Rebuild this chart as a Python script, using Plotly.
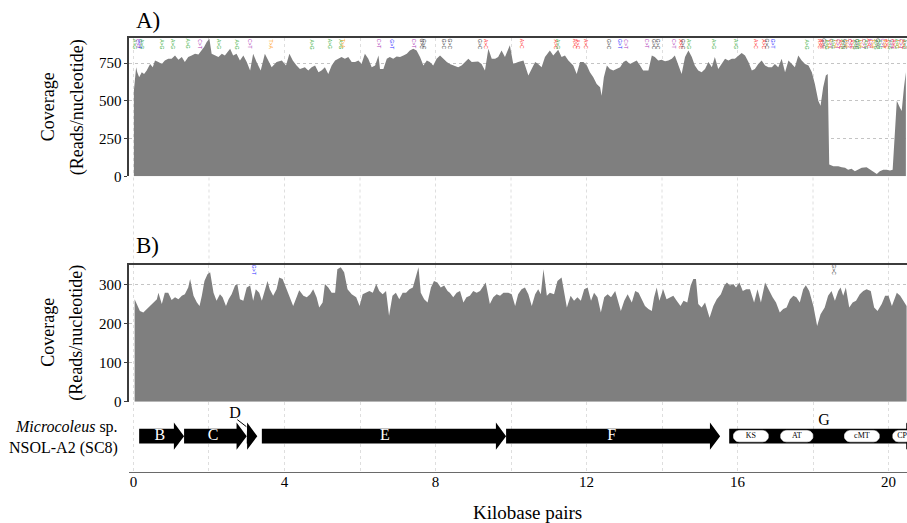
import numpy as np
import plotly.graph_objects as go

# ---------------- data ----------------
posA = [0.01,0.07,0.10,0.15,0.22,0.28,0.35,0.44,0.51,0.57,
        0.66,0.75,0.83,0.92,1.01,1.10,1.19,1.28,1.36,1.45,
        1.54,1.63,1.72,1.81,1.87,1.94,2.01,2.07,2.16,2.25,
        2.34,2.42,2.56,2.64,2.73,2.82,2.91,3.00,3.09,3.17,
        3.26,3.37,3.48,3.57,3.66,3.79,3.93,4.04,4.13,4.22,
        4.32,4.41,4.54,4.63,4.72,4.81,4.90,4.98,5.07,5.16,
        5.25,5.34,5.43,5.51,5.60,5.69,5.78,5.87,5.96,6.04,
        6.13,6.22,6.31,6.40,6.49,6.53,6.62,6.71,6.79,6.88,
        6.97,7.06,7.15,7.24,7.32,7.41,7.50,7.59,7.68,7.77,
        7.85,7.94,8.03,8.12,8.21,8.30,8.38,8.47,
        8.60,8.69,8.78,8.87,8.96,9.05,9.13,9.22,9.31,9.40,
        9.49,9.58,9.66,9.75,9.84,9.97,10.06,10.19,10.33,10.46,
        10.55,10.64,10.72,10.81,10.90,11.03,11.12,11.25,11.34,11.43,
        11.52,11.65,11.74,11.83,11.92,12.01,12.09,12.18,12.27,12.36,
        12.40,12.46,12.54,12.62,12.71,12.80,12.89,12.98,13.05,13.15,
        13.24,13.33,13.42,13.50,13.64,13.73,13.81,13.90,13.99,14.08,
        14.17,14.26,14.34,14.43,14.52,14.61,14.70,14.79,14.87,14.96,
        15.05,15.14,15.23,15.32,15.40,15.49,15.58,15.67,15.76,15.85,
        15.93,16.02,16.11,16.20,16.29,16.38,16.46,16.55,16.64,16.73,
        16.82,16.91,16.99,17.08,17.17,17.26,17.35,17.44,17.52,17.61,
        17.70,17.79,17.88,17.97,18.05,18.14,18.20,18.27,18.34,18.39,
        18.43,18.54,18.67,18.76,18.85,18.93,19.02,19.11,19.20,19.29,
        19.42,19.51,19.60,19.69,19.77,19.86,19.95,20.04,20.11,20.22,
        20.30,20.35,20.41,20.46]
covA = [567,722,689,656,689,678,700,744,722,767,
        756,744,767,778,778,800,771,789,756,789,
        800,811,807,833,856,889,911,811,800,789,
        811,800,844,800,811,767,800,756,700,811,
        756,700,811,767,722,756,767,733,811,767,
        733,711,722,700,722,733,689,700,722,678,
        733,767,778,789,778,789,756,756,767,744,
        811,778,722,733,800,711,711,778,789,778,
        793,789,800,811,833,844,833,789,733,767,
        756,733,778,800,778,756,744,733,
        722,733,756,778,756,756,760,744,700,844,
        778,778,789,833,789,867,744,756,767,667,
        711,756,744,722,789,833,800,838,789,800,
        767,733,678,756,756,733,689,656,611,589,
        533,656,733,711,700,711,722,756,767,744,
        756,767,733,700,700,800,789,767,771,762,
        767,778,800,744,678,789,833,789,733,700,
        689,711,756,722,789,711,744,778,767,778,
        778,800,816,800,756,700,711,744,767,733,
        722,722,744,722,778,689,767,744,722,800,
        767,744,733,689,611,500,467,589,667,678,
        78,67,67,60,56,44,51,33,44,56,
        60,44,29,16,33,44,44,38,44,500,
        456,433,589,689]

posB = [0.03,0.10,0.17,0.26,0.35,0.44,0.53,0.62,0.66,0.75,
        0.83,0.92,1.01,1.10,1.19,1.28,1.36,1.45,1.50,1.59,
        1.68,1.75,1.81,1.88,1.96,2.03,2.12,2.20,2.29,2.36,
        2.45,2.52,2.60,2.69,2.75,2.82,2.91,3.00,3.09,3.17,
        3.24,3.33,3.40,3.48,3.55,3.61,3.70,3.79,3.86,3.95,
        4.04,4.13,4.23,4.32,4.39,4.50,4.59,4.68,4.76,4.85,
        4.92,5.01,5.07,5.16,5.25,5.34,5.40,5.49,5.58,5.67,
        5.78,5.90,5.99,6.07,6.16,6.25,6.34,6.43,6.51,6.60,
        6.69,6.77,6.86,6.95,7.04,7.13,7.22,7.31,7.40,7.48,
        7.55,7.61,7.70,7.79,7.88,7.96,8.05,8.14,8.23,8.32,
        8.38,8.47,8.56,8.65,8.74,8.82,8.91,9.00,9.09,9.18,
        9.27,9.33,9.44,9.53,9.62,9.71,9.80,9.93,10.02,10.11,
        10.19,10.28,10.37,10.46,10.55,10.64,10.72,10.79,10.86,10.95,
        11.03,11.14,11.23,11.34,11.48,11.58,11.67,11.76,11.85,11.94,
        12.03,12.12,12.20,12.29,12.38,12.47,12.56,12.65,12.76,12.85,
        12.91,13.00,13.09,13.20,13.29,13.38,13.47,13.55,13.64,13.73,
        13.79,13.86,13.93,14.03,14.12,14.21,14.30,14.39,14.49,14.57,
        14.67,14.76,14.83,14.90,14.96,15.05,15.14,15.26,15.36,15.45,
        15.56,15.65,15.72,15.80,15.89,15.96,16.05,16.14,16.23,16.33,
        16.44,16.53,16.62,16.73,16.84,16.93,17.02,17.12,17.21,17.30,
        17.39,17.48,17.56,17.65,17.74,17.81,17.90,18.01,18.11,18.20,
        18.31,18.40,18.49,18.58,18.67,18.73,18.80,18.87,18.96,19.05,
        19.14,19.24,19.33,19.42,19.53,19.62,19.71,19.82,19.91,20.00,
        20.09,20.22,20.31,20.41,20.48]
covB = [262,245,232,228,237,245,254,262,279,250,
        279,279,260,267,262,271,275,292,314,271,
        254,245,271,309,326,331,279,258,275,267,
        245,262,275,297,301,262,258,292,297,258,
        288,279,258,288,309,288,271,288,318,314,
        292,271,245,267,285,271,267,275,288,267,
        241,254,301,292,279,279,339,344,331,288,
        275,267,245,275,279,283,279,301,283,275,
        283,220,271,279,262,279,279,288,292,322,
        344,279,262,254,292,309,305,292,297,283,
        279,267,279,283,254,267,271,283,279,283,
        297,305,250,267,275,271,279,279,275,245,
        275,288,292,275,245,275,288,275,339,271,
        279,275,309,318,241,271,258,267,258,288,
        292,258,279,267,228,267,275,267,283,254,
        232,258,275,254,283,279,262,245,237,232,
        267,292,258,288,262,267,271,258,245,258,
        254,297,314,314,250,241,254,215,245,262,
        275,297,305,297,301,292,305,283,288,288,
        254,288,254,305,283,267,254,228,237,241,
        262,271,267,254,288,298,283,245,194,224,
        241,271,283,258,283,292,271,292,241,254,
        258,275,283,288,283,241,232,250,271,271,
        245,279,271,254,245]

# variant labels along the top of each panel (position kb, colour class)
snpA_pos = [0.04,0.12,0.17,0.23,0.75,1.05,1.43,1.76,2.27,2.73,3.09,3.63,4.72,5.19,5.49,5.56,
            6.51,6.84,7.44,7.63,7.70,8.21,8.37,9.18,9.34,10.30,11.18,11.25,11.68,11.77,11.99,
            12.60,12.89,13.04,13.61,13.79,13.90,14.32,14.50,14.56,14.72,15.38,15.96,16.49,
            16.70,16.77,16.95,17.83,
            18.19,18.24,18.29,18.36,18.42,18.48,18.54,18.61,18.66,18.73,18.79,18.85,18.91,
            18.98,19.03,19.10,19.17,19.22,19.28,19.35,19.40,19.47,19.54,19.59,19.66,19.72,
            19.77,19.84,19.91,19.96,20.03,20.09,20.15,20.21,20.28,20.33,20.40,20.44]
snpA_kind = ["g","p","b","g","g","g","g","p","g","g","p","o","g","g","g","o",
             "p","b","p","k","k","k","k","k","r","r","r","g","r","r","r",
             "k","b","p","p","k","k","p","r","k","g","g","g","r",
             "r","k","b","g",
             "r","r","k","g","o","p","g","o","p","r","g","k","o",
             "p","r","g","k","g","o","p","g","r","p","o","g","k",
             "g","p","o","r","g","p","r","g","o","p","r","g"]
snpB_pos = [3.21, 18.56]
snpB_kind = ["b", "k"]
kind_color = {"g": "#3cb043", "p": "#b03cb8", "b": "#2f2fff", "o": "#ffa31a",
              "k": "#3a3a3a", "r": "#ff2a2a"}
kind_text = {"g": "A>G", "p": "C>T", "b": "G>T", "o": "T>A", "k": "G>C", "r": "A>C"}

# gene cluster
gene_names = ["B", "C", "D", "E", "F", "G"]
gene_start = [0.15, 1.34, 3.00, 3.40, 9.87, 15.78]
gene_end = [1.34, 3.00, 3.28, 9.87, 15.54, 20.74]
gene_label_x = [0.70, 2.11, 2.69, 6.66, 12.67, 18.29]
domain_names = ["KS", "AT", "cMT", "CP"]
domain_start = [15.89, 17.14, 18.83, 20.11]
domain_end = [16.82, 18.00, 19.76, 20.61]

x_ticks = [0, 4, 8, 12, 16, 20]

# ---------------- layout helpers ----------------
W, H = 907, 523          # reference frame
FIG_H = 532              # page is photographed at this height then fitted to 523
def py(p):  # reference pixel row -> paper y
    return (H - p) / H
def px(p):
    return p / W

FONT = "Liberation Serif"
XR = [-0.119, 20.49]
GRID_V = "#dedede"
GRID_H = "#c4c4c4"
AX = "#3c3c3c"
FILL = "#7f7f7f"

fig = go.Figure()

fig.add_trace(go.Scatter(x=posA, y=covA, mode="lines", fill="tozeroy",
                         fillcolor=FILL, line=dict(width=0, color=FILL),
                         xaxis="x", yaxis="y", hoverinfo="skip", showlegend=False))
fig.add_trace(go.Scatter(x=posB, y=covB, mode="lines", fill="tozeroy",
                         fillcolor=FILL, line=dict(width=0, color=FILL),
                         xaxis="x2", yaxis="y2", hoverinfo="skip", showlegend=False))

# gene arrows
yc, bh, hh, head = 5.1, 1.04, 1.95, 0.27
for s, e in zip(gene_start, gene_end):
    h = min(head, e - s)
    xs = [s, e - h, e - h, e, e - h, e - h, s, s]
    ys = [yc - bh, yc - bh, yc - hh, yc, yc + hh, yc + bh, yc + bh, yc - bh]
    fig.add_trace(go.Scatter(x=xs, y=ys, mode="lines", fill="toself", fillcolor="black",
                             line=dict(width=0, color="black"), xaxis="x3", yaxis="y3",
                             hoverinfo="skip", showlegend=False))

# domain pills
ry, rx = 0.81, 0.151
t = np.linspace(-np.pi / 2, np.pi / 2, 20)
for s, e in zip(domain_start, domain_end):
    right_x = (e - rx) + rx * np.cos(t)
    right_y = yc + ry * np.sin(t)
    left_x = (s + rx) - rx * np.cos(t[::-1])
    left_y = yc + ry * np.sin(t[::-1])
    xs = np.concatenate([right_x, left_x, right_x[:1]])
    ys = np.concatenate([right_y, left_y, right_y[:1]])
    fig.add_trace(go.Scatter(x=xs, y=ys, mode="lines", fill="toself", fillcolor="white",
                             line=dict(width=0.6, color="white"), xaxis="x3", yaxis="y3",
                             hoverinfo="skip", showlegend=False))

fig.add_trace(go.Scatter(x=[(s + e) / 2 for s, e in zip(domain_start, domain_end)],
                         y=[yc] * len(domain_names), text=domain_names, mode="text",
                         textfont=dict(family=FONT, size=8, color="black"),
                         cliponaxis=True, xaxis="x3", yaxis="y3",
                         hoverinfo="skip", showlegend=False))

# gene labels (white inside arrows, black above for D and G)
inside = [n for n in gene_names if n not in ("D", "G")]
fig.add_trace(go.Scatter(x=[gene_label_x[gene_names.index(n)] for n in inside],
                         y=[yc] * len(inside), text=inside, mode="text",
                         textfont=dict(family=FONT, size=16, color="white"),
                         xaxis="x3", yaxis="y3", hoverinfo="skip", showlegend=False))
above = ["D", "G"]
fig.add_trace(go.Scatter(x=[gene_label_x[gene_names.index(n)] for n in above],
                         y=[8.3, 7.2], text=above, mode="text",
                         textfont=dict(family=FONT, size=16, color="black"),
                         xaxis="x3", yaxis="y3", hoverinfo="skip", showlegend=False))
d_start = gene_start[gene_names.index("D")]
fig.add_shape(type="line", xref="x3", yref="y3", x0=d_start - 0.25, y0=7.45,
              x1=d_start - 0.01, y1=6.45, line=dict(color="black", width=1))

shared_x = dict(range=XR, showticklabels=False, ticks="", showgrid=True,
                gridcolor=GRID_V, griddash="dot", gridwidth=1, dtick=2, tick0=0,
                zeroline=False, showline=True, linecolor=AX, linewidth=1.6,
                side="top", domain=[px(129), 1])
yfont = dict(family=FONT, size=15, color="black")
shared_y = dict(showline=True, linecolor=AX, linewidth=1.6, ticks="outside",
                ticklen=3, tickcolor=AX, tickfont=yfont, showgrid=True,
                gridcolor=GRID_H, griddash="dot", zeroline=False)

fig.update_layout(
    width=W, height=FIG_H, margin=dict(l=0, r=0, t=0, b=0),
    paper_bgcolor="white", plot_bgcolor="white", showlegend=False,
    font=dict(family=FONT, color="black"),
    xaxis=dict(anchor="y", **shared_x),
    xaxis2=dict(anchor="y2", matches="x", **shared_x),
    xaxis3=dict(anchor="y3", matches="x", range=XR, domain=[px(129), 1],
                tickvals=x_ticks, ticks="", tickfont=dict(family=FONT, size=15, color="black"),
                ticklabelstandoff=-4,
                showgrid=True, gridcolor=GRID_V, griddash="dot",
                minor=dict(dtick=2, tick0=0, showgrid=True, gridcolor=GRID_V, griddash="dot"),
                zeroline=False, showline=True, linecolor="#6a6a6a", linewidth=1.2),
    yaxis=dict(anchor="x", domain=[py(176), py(38)], range=[0, 915],
               tickvals=[0, 250, 500, 750], **shared_y),
    yaxis2=dict(anchor="x2", domain=[py(401), py(264)], range=[0, 351],
                tickvals=[0, 100, 200, 300], **shared_y),
    yaxis3=dict(anchor="x3", domain=[py(471), py(401)], range=[0, 10], visible=False),
)

# vertical dotted gridlines in the gap between panels A and B
for g in range(0, 21, 2):
    fig.add_shape(type="line", xref="x", yref="paper", x0=g, x1=g,
                  y0=py(264), y1=py(176), line=dict(color=GRID_V, width=1, dash="dot"),
                  layer="below")

ann = []
ann.append(dict(text="A)", x=px(134), y=py(20), xref="paper", yref="paper",
                xanchor="left", yanchor="middle", showarrow=False,
                font=dict(family=FONT, size=23, color="black")))
ann.append(dict(text="B)", x=px(134), y=py(245), xref="paper", yref="paper",
                xanchor="left", yanchor="middle", showarrow=False,
                font=dict(family=FONT, size=23, color="black")))
for cy in (107, 332):
    ann.append(dict(text="Coverage", x=px(48), y=py(cy), xref="paper", yref="paper",
                    textangle=-90, showarrow=False, xanchor="center", yanchor="middle",
                    font=dict(family=FONT, size=18, color="black")))
    ann.append(dict(text="(Reads/nucleotide)", x=px(77), y=py(cy), xref="paper", yref="paper",
                    textangle=-90, showarrow=False, xanchor="center", yanchor="middle",
                    font=dict(family=FONT, size=18, color="black")))
ann.append(dict(text="<i>Microcoleus</i> sp.", x=px(120), y=py(426), xref="paper", yref="paper",
                xanchor="right", yanchor="middle", showarrow=False,
                font=dict(family=FONT, size=16, color="black")))
ann.append(dict(text="NSOL-A2 (SC8)", x=px(120), y=py(447), xref="paper", yref="paper",
                xanchor="right", yanchor="middle", showarrow=False,
                font=dict(family=FONT, size=16, color="black")))
ann.append(dict(text="Kilobase pairs", x=px(527), y=py(512), xref="paper", yref="paper",
                xanchor="center", yanchor="middle", showarrow=False,
                font=dict(family=FONT, size=19, color="black")))
for xs, ks, xr, yp in ((snpA_pos, snpA_kind, "x", 44), (snpB_pos, snpB_kind, "x2", 269)):
    for xv, k in zip(xs, ks):
        ann.append(dict(text=kind_text[k], x=xv, y=py(yp), xref=xr, yref="paper",
                        textangle=90, showarrow=False, xanchor="center", yanchor="middle",
                        font=dict(family="Liberation Sans", size=5, color=kind_color[k])))
fig.update_layout(annotations=ann)

fig.write_html(
    "out.html",
    config={"displayModeBar": False, "staticPlot": True},
    post_script=(
        "var s=document.documentElement.style;s.margin='0';s.padding='0';s.overflow='hidden';"
        "var b=document.body.style;b.margin='0';b.padding='0';b.overflow='hidden';"
        "b.lineHeight='0';b.fontSize='0';"
        "var d=document.getElementById('{plot_id}');d.style.display='block';"
        "if(d.parentElement){d.parentElement.style.lineHeight='0';d.parentElement.style.fontSize='0';}"
    ),
)
